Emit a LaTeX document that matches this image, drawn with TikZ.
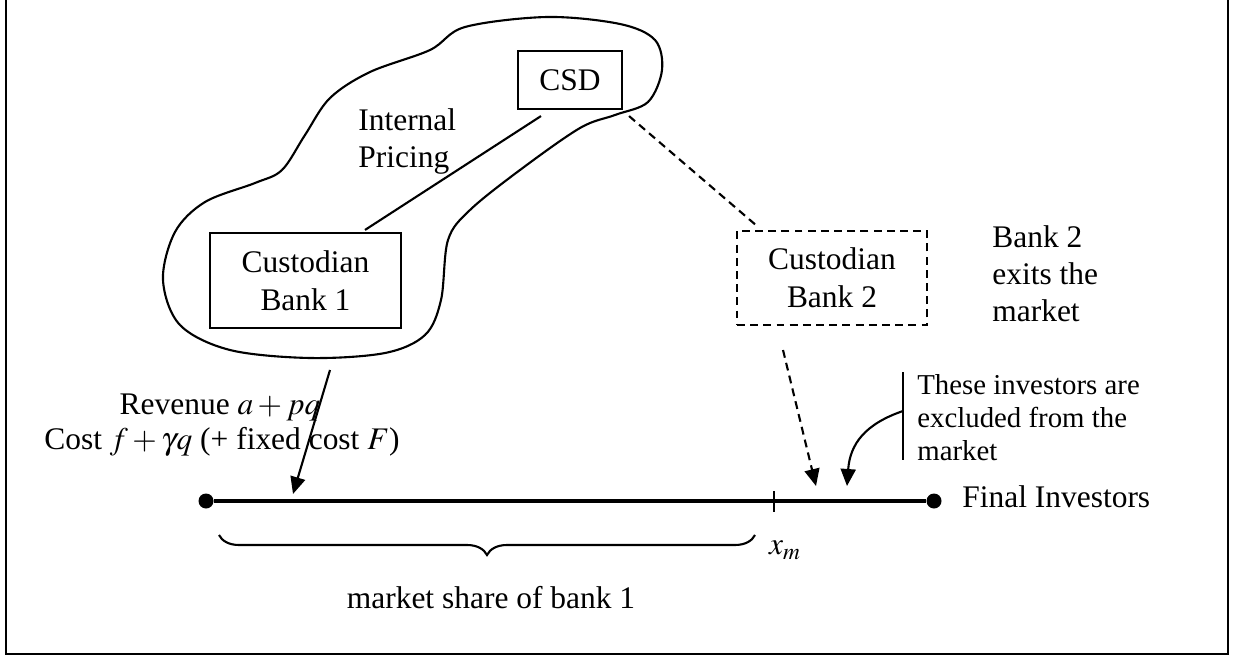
\documentclass[tikz,border=0pt]{standalone}
\usepackage{mathptmx}
\usepackage[no-math]{fontspec}
\setmainfont{Liberation Serif}
\usetikzlibrary{
    positioning,
    calc,
    arrows.meta,
    decorations.pathreplacing
    }

\begin{document}
\begin{tikzpicture}
\tikzset{party/.style =
        {
            rectangle,
            line width=1.2pt,
            minimum width=3.82cm,
            minimum height=1.9cm,
            align=center,
            font=\fontsize{17.9}{21.5}\selectfont,
            draw
        }
}

\tikzset{gone/.style =
        {
            party,
            dash pattern=on 4.5pt off 3pt
        }
}

\tikzset{note/.style =
        {
            inner sep=0pt,
            align=left,
            font=\fontsize{17.9}{21}\selectfont
        }
}

\tikzset{small note/.style =
        {
            note,
            font=\fontsize{16.4}{18.8}\selectfont
        }
}

\tikzset{endpoint/.style =
        {
            shape=circle,
            fill=black,
            minimum size=0.3cm,
            inner sep=0pt
        }
}

\tikzset{flow/.style = {
            line width=1.2pt,
            -{Triangle[length=3.4mm, width=3mm]}
        }
}

\tikzset{hint/.style = {
            flow,
            dash pattern=on 4.5pt off 3pt
        }
}

		\useasboundingbox (0,0) rectangle (24.68,13.18);
		\draw[line width=1.6pt] (0.12,13.4) rectangle (24.56,0.1);

		% the group: CSD and its bank
		\node[party, minimum width=2.08cm, minimum height=1.16cm] (csd) at (11.40,11.58) {CSD};
		\node[party] (bank1) at (6.11,7.57) {Custodian\\Bank 1};
		\node[gone, minimum width=3.80cm, minimum height=1.88cm] (bank2) at (16.64,7.62) {Custodian\\Bank 2};

		\draw[line width=1.2pt] plot[smooth cycle, tension=0.55] coordinates {
			(10.94,12.84) (12.40,12.70) (13.10,12.38) (13.24,11.78)
			(12.96,11.14) (12.30,10.88) (11.60,10.62) (10.40,9.78)
			(9.40,8.98) (8.96,8.38) (8.82,7.18) (8.50,6.48)
			(7.70,6.12) (6.20,6.02) (4.60,6.18) (3.60,6.68)
			(3.26,7.58) (3.50,8.54) (4.10,9.14) (5.10,9.52)
			(5.64,9.78) (6.10,10.48) (6.60,11.22) (7.40,11.74)
			(8.60,12.18) (9.30,12.64)};

		\node[note, anchor=west] (pricing) at (7.16,10.35) {Internal\\Pricing};
		\node[note, anchor=west] (exits) at (19.84,7.70) {Bank 2\\exits the\\market};

		\draw[line width=1.2pt] ($(csd.south)+(-0.58,-0.12)$) -- ($(bank1.north)+(1.19,0.04)$);
		\draw[line width=1.2pt, dash pattern=on 4.5pt off 3pt]
			($(csd.south east)+(0.12,-0.12)$) -- ($(bank2.north west)+(0.42,0.08)$);

		% the line of investors
		\node[endpoint] (left-end) at (4.12,3.16) {};
		\node[endpoint] (right-end) at (18.68,3.16) {};
		\draw[line width=2pt] (left-end) -- (right-end);
		\node[note, anchor=west] (investors) at (19.24,3.24) {Final Investors};

		\coordinate (xm) at (15.48,3.16);
		\draw[line width=1.2pt] (xm) ++(0,0.2) -- ++(0,-0.42);
		\node[note] (xm-label) at (15.70,2.18) {$x_m$};

		\draw[line width=1.2pt, decorate, decoration={brace, mirror, amplitude=0.4cm}]
			(4.38,2.48) -- (15.10,2.48);
		\node[note] (share) at (9.82,1.22) {market share of bank 1};

		\node[note] (revenue) at (4.40,5.04) {Revenue $a+pq$};
		\node[note] (cost) at (4.44,4.34) {Cost $f+\gamma q$ (+ fixed cost $F$)};

		\coordinate (from-group) at (6.60,5.78);
		\coordinate (hit-one) at (5.86,3.30);
		\draw[flow] (from-group) -- (hit-one);

		\coordinate (from-bank2) at (15.66,6.18);
		\coordinate (hit-two) at (16.32,3.46);
		\draw[hint] (from-bank2) -- (hit-two);

		% excluded investors
		\coordinate (bar-top) at (18.06,5.74);
		\coordinate (bar-bottom) at (18.06,3.98);
		\coordinate (bar-mid) at (18.06,4.96);
		\coordinate (hit-out) at (16.94,3.46);
		\draw[line width=1.2pt] (bar-top) -- (bar-bottom);
		\draw[flow] (bar-mid) .. controls (17.30,4.70) and (17.00,4.30) .. (hit-out);
		\node[small note, anchor=west] (excluded) at (18.34,4.82) {These investors are\\excluded from the\\market};

	\end{tikzpicture}
\end{document}
